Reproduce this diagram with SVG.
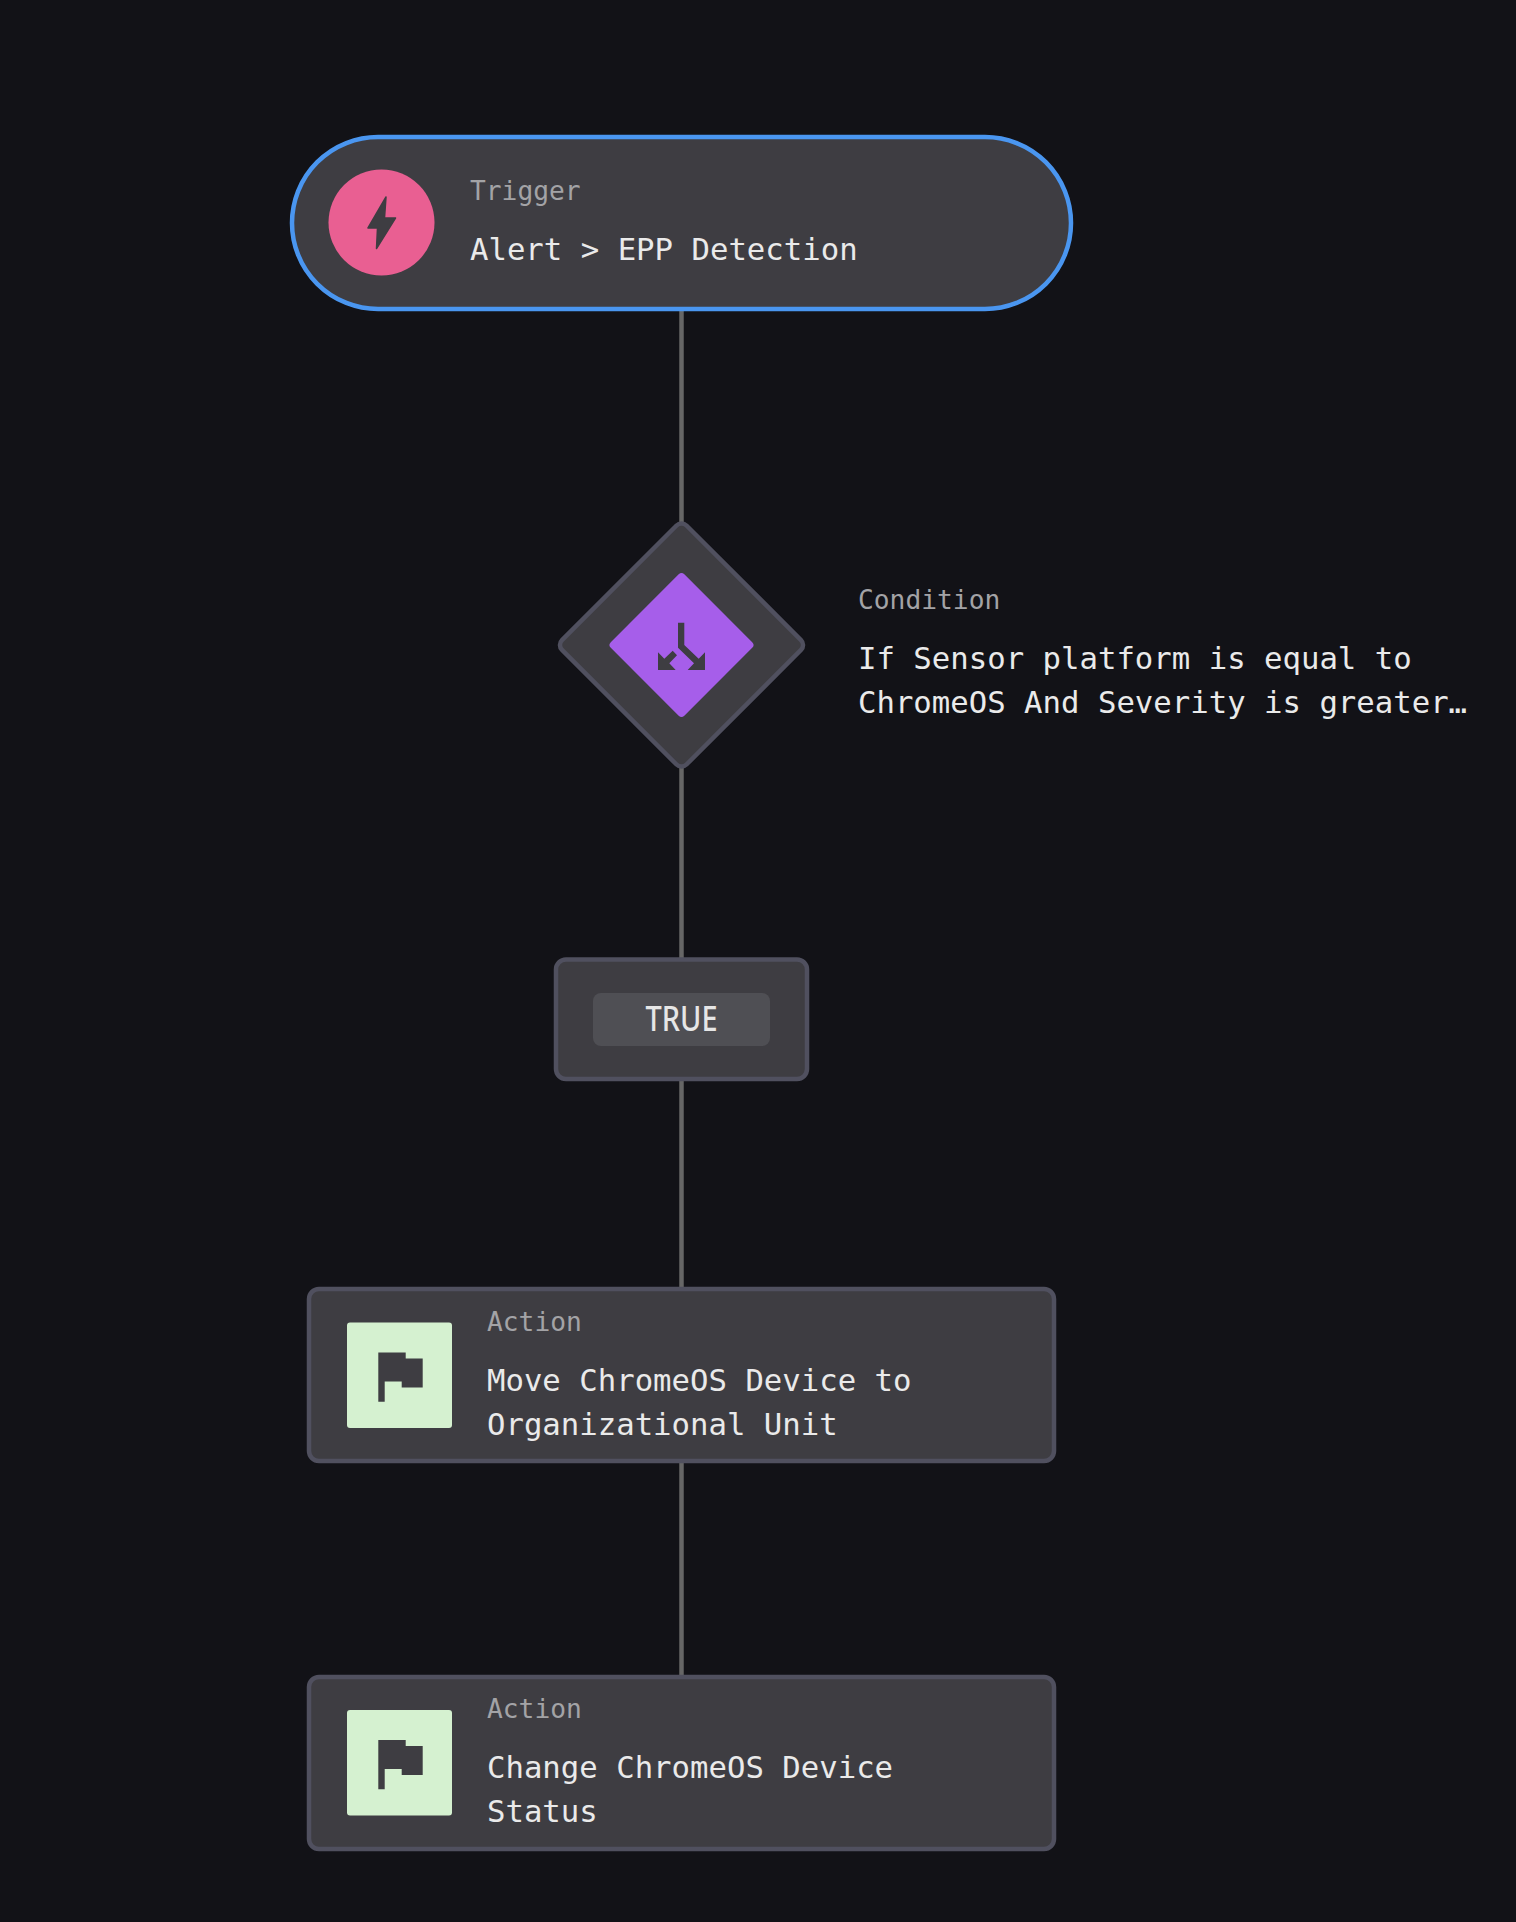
<svg xmlns="http://www.w3.org/2000/svg" width="1516" height="1922" viewBox="0 0 1516 1922">
<style>
.node{fill:#3e3d42;stroke:#50505f;stroke-width:4.500}
.lbl{font-family:"DejaVu Sans Mono","Liberation Mono",monospace;font-size:26.250px;fill:#a3a3a6}
.txt{font-family:"DejaVu Sans Mono","Liberation Mono",monospace;font-size:30.660px;fill:#eaeaea}
.ic{fill:#3e3d42}
.edge{stroke:#666;stroke-width:4.500;fill:none}
</style>
<defs>
<g id="flag"><rect x="347" y="0" width="105" height="105.500" rx="3" fill="#d5f1d0"/><path class="ic" d="M378.300 30H405.700V36H422.700V65H401.700V59H384.700V79.300H378.300Z"/></g>
</defs>
<rect width="1516" height="1922" fill="#121217"/>
<g id="connectors">
<path class="edge" d="M681.500 310V530"/>
<path class="edge" d="M681.500 760V959"/>
<path class="edge" d="M681.500 1080V1288"/>
<path class="edge" d="M681.500 1462V1676"/>
</g>
<g id="trigger">
<rect x="292" y="137" width="779" height="172" rx="86" fill="#3e3d42" stroke="#4a96f0" stroke-width="4.500"/>
<circle cx="381.500" cy="222.500" r="53" fill="#e95f92"/>
<path class="ic" stroke="#3e3d42" stroke-width="1.500" stroke-linejoin="round" d="M386 197L368 228H377.500L376.500 248.500L395.500 218H384.500Z"/>
<text class="lbl" x="470" y="200">Trigger</text>
<text class="txt" x="470" y="260">Alert &gt; EPP Detection</text>
</g>
<g id="condition">
<rect class="node" x="593.500" y="557" width="176" height="176" rx="7" transform="rotate(45 681.500 645)"/>
<rect x="629.500" y="593" width="104" height="104" rx="4" fill="#a65eea" transform="rotate(45 681.500 645)"/>
<path class="ic" d="M678 622.700H684.300V645L698.700 658.700L705 652.300V670H687.700L694 663.300L678 647.700Z"/>
<path class="ic" d="M658 652.300L664.300 658.700L672.700 650.700L677 655.300L669.300 663.300L675.700 670H658Z"/>
<text class="lbl" x="858" y="609">Condition</text>
<text class="txt" x="858" y="669">If Sensor platform is equal to</text>
<text class="txt" x="858" y="713">ChromeOS And Severity is greater…</text>
</g>
<g id="true">
<rect class="node" x="556" y="959.500" width="251" height="119.500" rx="10"/>
<rect x="593" y="993" width="177" height="53" rx="8" fill="#4f4f54"/>
<text x="645.500" y="1031" font-family="Noto Sans, sans-serif" font-size="34" font-weight="500" fill="#e6e6e6" textLength="72" lengthAdjust="spacingAndGlyphs">TRUE</text>
</g>
<g id="action1">
<rect class="node" x="309" y="1289" width="745" height="172" rx="10"/>
<use href="#flag" y="1322.500"/>
<text class="lbl" x="487" y="1331">Action</text>
<text class="txt" x="487" y="1391">Move ChromeOS Device to</text>
<text class="txt" x="487" y="1435">Organizational Unit</text>
</g>
<g id="action2">
<rect class="node" x="309" y="1677" width="745" height="172" rx="10"/>
<use href="#flag" y="1710"/>
<text class="lbl" x="487" y="1718">Action</text>
<text class="txt" x="487" y="1778">Change ChromeOS Device</text>
<text class="txt" x="487" y="1822">Status</text>
</g>
</svg>
